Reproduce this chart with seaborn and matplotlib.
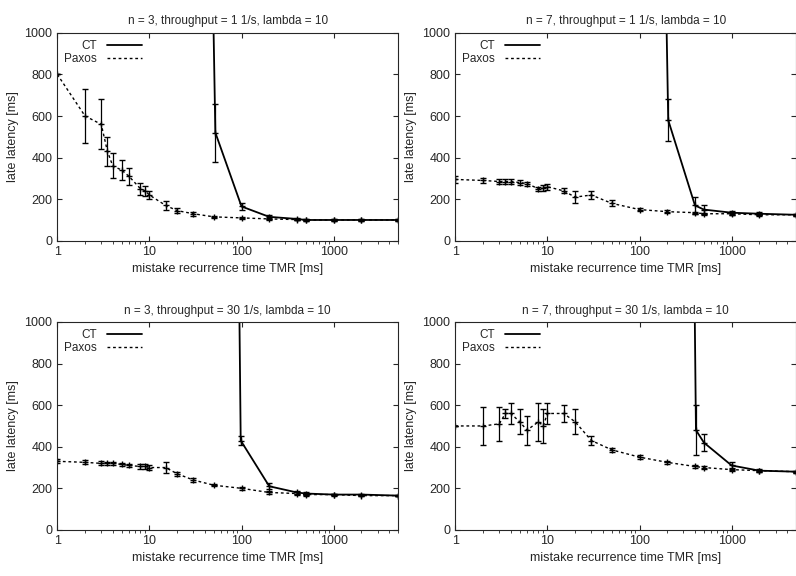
import matplotlib
matplotlib.use('Agg')
import matplotlib.pyplot as plt
import numpy as np
import seaborn as sns

# x positions (TMR in ms) for Paxos curves
pax_x = [1, 2, 3, 3.5, 4, 5, 6, 8, 9, 10, 15, 20, 30, 50, 100, 200, 400, 500, 1000, 2000, 5000]

# panel 1: n=3, throughput=1
p1_pax = [800, 600, 560, 430, 360, 340, 310, 250, 240, 220, 170, 145, 130, 115, 110, 105, 102, 100, 100, 100, 100]
p1_err = [0, 130, 120, 70, 60, 50, 40, 30, 25, 20, 20, 12, 10, 6, 5, 5, 4, 4, 3, 3, 3]
p1_ct_x = [48, 52, 100, 200, 400, 500, 1000, 2000, 5000]
p1_ct = [1400, 520, 165, 115, 105, 100, 100, 100, 100]
p1_ct_err = [0, 140, 15, 10, 5, 5, 3, 3, 3]

# panel 2: n=7, throughput=1
p2_pax = [295, 290, 285, 285, 285, 280, 275, 250, 255, 260, 240, 210, 220, 180, 150, 140, 135, 130, 130, 125, 125]
p2_err = [15, 10, 12, 10, 12, 12, 10, 10, 15, 15, 12, 30, 20, 15, 8, 6, 5, 5, 5, 5, 4]
p2_ct_x = [190, 205, 400, 500, 1000, 2000, 5000]
p2_ct = [1400, 580, 170, 150, 135, 130, 125]
p2_ct_err = [0, 100, 40, 20, 10, 8, 5]

# panel 3: n=3, throughput=30
p3_pax = [330, 325, 320, 320, 320, 315, 310, 305, 305, 300, 300, 270, 240, 215, 200, 180, 175, 170, 170, 165, 165]
p3_err = [10, 10, 10, 8, 8, 8, 8, 10, 10, 12, 25, 10, 8, 6, 6, 5, 5, 5, 4, 4, 4]
p3_ct_x = [93, 98, 200, 400, 500, 1000, 2000, 5000]
p3_ct = [1400, 430, 210, 180, 175, 170, 170, 165]
p3_ct_err = [0, 20, 15, 8, 6, 5, 4, 4]

# panel 4: n=7, throughput=30
p4_pax = [500, 500, 510, 560, 560, 520, 480, 520, 500, 560, 560, 520, 430, 385, 350, 325, 305, 300, 290, 285, 280]
p4_err = [0, 90, 80, 20, 50, 60, 70, 90, 80, 50, 40, 60, 20, 10, 10, 8, 8, 6, 6, 5, 5]
p4_ct_x = [390, 410, 500, 1000, 2000, 5000]
p4_ct = [1400, 480, 420, 310, 285, 280]
p4_ct_err = [0, 120, 40, 15, 8, 5]

titles = ['n = 3, throughput = 1 1/s, lambda = 10',
          'n = 7, throughput = 1 1/s, lambda = 10',
          'n = 3, throughput = 30 1/s, lambda = 10',
          'n = 7, throughput = 30 1/s, lambda = 10']

panels = [
    (p1_pax, p1_err, p1_ct_x, p1_ct, p1_ct_err),
    (p2_pax, p2_err, p2_ct_x, p2_ct, p2_ct_err),
    (p3_pax, p3_err, p3_ct_x, p3_ct, p3_ct_err),
    (p4_pax, p4_err, p4_ct_x, p4_ct, p4_ct_err),
]

sns.set_style('ticks')
plt.rcParams['font.family'] = ['Liberation Sans', 'DejaVu Sans']

fig = plt.figure(figsize=(7.96, 5.76), dpi=100)
rects = [[0.072, 0.582, 0.428, 0.361], [0.572, 0.582, 0.428, 0.361],
         [0.072, 0.080, 0.428, 0.361], [0.572, 0.080, 0.428, 0.361]]

for rect, title, (pax, perr, ctx, ct, cterr) in zip(rects, titles, panels):
    ax = fig.add_axes(rect)
    sns.lineplot(x=pax_x, y=pax, ax=ax, color='black', lw=1, linestyle=(0, (2, 2)), label='Paxos')
    sns.lineplot(x=ctx, y=ct, ax=ax, color='black', lw=1.3, label='CT')
    ax.errorbar(pax_x, pax, yerr=perr, fmt='none', ecolor='black', elinewidth=0.9, capsize=2.5)
    ax.errorbar(ctx, ct, yerr=cterr, fmt='none', ecolor='black', elinewidth=0.9, capsize=2.5)
    ax.plot(pax_x, pax, '+', color='black', ms=4)
    ax.plot(ctx, ct, '+', color='black', ms=4)
    ax.set_xscale('log')
    ax.set_xlim(1, 5000)
    ax.set_ylim(0, 1000)
    ax.set_yticks([0, 200, 400, 600, 800, 1000])
    ax.set_xticks([1, 10, 100, 1000])
    ax.set_xticklabels(['1', '10', '100', '1000'])
    ax.tick_params(direction='in', labelsize=9, top=True, right=True)
    ax.set_title(title, fontsize=8.5)
    ax.set_xlabel('mistake recurrence time TMR [ms]', fontsize=9)
    ax.set_ylabel('late latency [ms]', fontsize=9)
    h, l = ax.get_legend_handles_labels()
    ax.legend(h[::-1], l[::-1], loc='upper left', frameon=False, fontsize=8.5,
              markerfirst=False, handlelength=3, borderaxespad=0.2, labelspacing=0.1)

plt.savefig('out.png', dpi=100)
